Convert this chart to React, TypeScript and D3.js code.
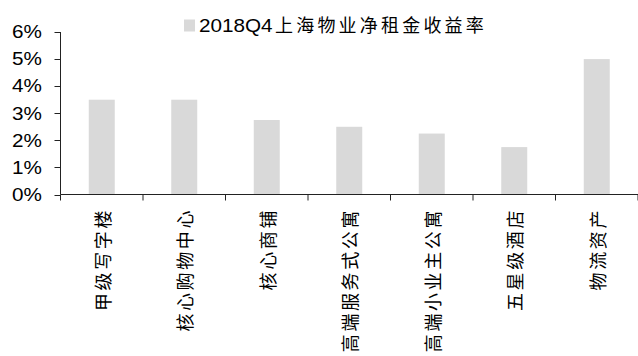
import React from "react";
import * as d3 from "d3";

const categories = ["甲级写字楼", "核心购物中心", "核心商铺", "高端服务式公寓", "高端小业主公寓", "五星级酒店", "物流资产"];
const values = [3.5, 3.5, 2.75, 2.5, 2.25, 1.75, 5.0];
const yTicks = [0, 1, 2, 3, 4, 5, 6];
const seriesName = "2018Q4上海物业净租金收益率";

const W = 638, H = 356;
const left = 60.5, right = 638, top = 32, bottom = 194.5;
const cjk = '"Noto Sans CJK SC", "Noto Sans CJK JP", sans-serif';
const latin = 'Arial, "Liberation Sans", sans-serif';

export default function App() {
  const x = d3.scaleBand<string>().domain(categories).range([left, right]).paddingInner(0.685).paddingOuter(0.3425);
  const y = d3.scaleLinear().domain([0, 6]).range([bottom, top]);
  const step = x.step();
  const bounds = d3.range(categories.length + 1).map((i) => left + i * step);
  return (
    <svg width={W} height={H} style={{ position: "absolute", left: 0, top: 0, background: "#fff" }}>
      {categories.map((c, i) => (
        <rect key={c} x={x(c)} y={y(values[i])} width={x.bandwidth()} height={y(0) - y(values[i])} fill="#d9d9d9" />
      ))}
      <line x1={left} x2={left} y1={top} y2={bottom} stroke="#222" strokeWidth={1} />
      <line x1={left} x2={right} y1={bottom} y2={bottom} stroke="#222" strokeWidth={1} />
      {yTicks.map((t) => (
        <g key={t}>
          <line x1={left - 6} x2={left} y1={Math.round(y(t)) + 0.5} y2={Math.round(y(t)) + 0.5} stroke="#222" />
          <g transform={`translate(42,${y(t) + 6.3}) scale(1.15,1)`}>
            <text textAnchor="end" fontFamily={latin} fontSize={18} fill="#000">{t + "%"}</text>
          </g>
        </g>
      ))}
      {bounds.map((b, i) => (
        <line key={i} x1={b} x2={b} y1={bottom} y2={bottom + 6} stroke="#222" />
      ))}
      {categories.map((c) => (
        <text
          key={c}
          transform={`translate(${(x(c) as number) + x.bandwidth() / 2},${208}) rotate(-90)`}
          textAnchor="end"
          dominantBaseline="central"
          fontFamily={cjk}
          fontSize={18}
          letterSpacing={2.6}
          fill="#000"
        >
          {c}
        </text>
      ))}
      <rect x={184} y={19.5} width={11} height={12} fill="#d9d9d9" />
      <g transform={`translate(199,32.3) scale(1.15,1)`}>
        <text fontFamily={latin} fontSize={18} fill="#000">{seriesName.slice(0, 6)}</text>
      </g>
      <text x={275} y={31.5} fontFamily={cjk} fontSize={18} letterSpacing={3.2} fill="#000">{seriesName.slice(6)}</text>
    </svg>
  );
}
